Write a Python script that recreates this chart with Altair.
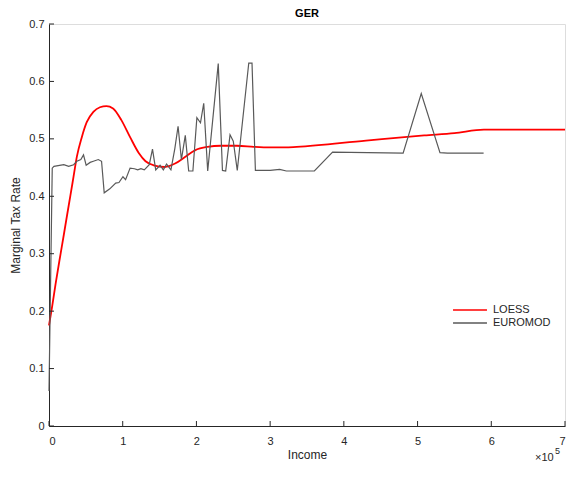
import altair as alt
import pandas as pd

# EUROMOD series (income, marginal tax rate)
euro_income = [0, 4400, 6700, 20100, 26700, 33400, 37800, 43200, 46800, 50400, 55800, 60200,
               66900, 71300, 74900, 82500, 90500, 94900, 100300, 103900, 110000, 115900, 120300,
               124700, 129300, 136000, 140400, 144800, 150700, 155100, 159500, 165400, 170700,
               175100, 179600, 184900, 189500, 195200, 200600, 205500, 209900, 215300, 229600,
               235300, 239700, 245600, 250000, 255400, 271000, 275400, 280000, 300000, 312900,
               322000, 360000, 384700, 480400, 505000, 530400, 540600, 589600]
euro_rate = [0.061, 0.449, 0.452, 0.455, 0.452, 0.455, 0.461, 0.464, 0.472, 0.454, 0.459, 0.461,
             0.464, 0.461, 0.406, 0.413, 0.423, 0.424, 0.434, 0.429, 0.449, 0.448, 0.446,
             0.448, 0.446, 0.455, 0.482, 0.446, 0.454, 0.446, 0.456, 0.446, 0.483,
             0.522, 0.464, 0.506, 0.444, 0.444, 0.537, 0.528, 0.562, 0.444, 0.631,
             0.445, 0.444, 0.507, 0.496, 0.445, 0.632, 0.632, 0.445, 0.445, 0.447,
             0.444, 0.444, 0.477, 0.475, 0.579, 0.476, 0.475, 0.475]

# LOESS series
loess_income = [0, 4400, 9000, 15600, 20100, 24500, 29000, 33400, 37800, 44500, 51200, 60200,
                69100, 77900, 86900, 98000, 110000, 122000, 131000, 142000, 157000, 171000,
                184000, 198000, 215000, 233000, 255000, 278000, 300000, 320000, 336000, 430000,
                509000, 550000, 590000, 700000]
loess_rate = [0.175, 0.209, 0.248, 0.299, 0.333, 0.367, 0.401, 0.435, 0.469, 0.503, 0.529, 0.547,
              0.555, 0.557, 0.553, 0.533, 0.503, 0.475, 0.461, 0.454, 0.451, 0.457,
              0.468, 0.480, 0.486, 0.488, 0.488, 0.486, 0.485, 0.485, 0.486, 0.497,
              0.506, 0.510, 0.516, 0.516]

x_ticks = [0, 100000, 200000, 300000, 400000, 500000, 600000, 700000]
y_ticks = [0, 0.1, 0.2, 0.3, 0.4, 0.5, 0.6, 0.7]
series_names = ["LOESS", "EUROMOD"]
series_colors = ["#ff0000", "#595959"]

W, H = 516, 402
AX = "#262626"
FONT = "Liberation Sans"

euro = pd.DataFrame({"income": euro_income, "rate": euro_rate, "series": "EUROMOD"})
loess = pd.DataFrame({"income": loess_income, "rate": loess_rate, "series": "LOESS"})

xs = alt.Scale(domain=[0, 700000], nice=False, zero=False)
ys = alt.Scale(domain=[0, 0.7], nice=False, zero=False)
cs = alt.Scale(domain=series_names, range=series_colors)

legend = alt.Legend(title=None, orient="none", legendX=413, legendY=278,
                    symbolType="M-2.4,0H2.4", symbolSize=200, symbolStrokeWidth=1.5,
                    labelFontSize=11, labelColor=AX, labelFont=FONT, rowPadding=0,
                    labelOffset=15)

xaxis = alt.Axis(values=x_ticks, labelExpr="datum.value/100000", grid=False, ticks=False,
                 domainColor=AX, labelColor=AX, labelFontSize=11, labelFont=FONT,
                 labelPadding=9, title="Income", titleFont=FONT, titleFontSize=12,
                 titleFontWeight="normal", titleColor=AX, titlePadding=3)
yaxis = alt.Axis(values=y_ticks, grid=False, ticks=False, domainColor=AX, labelColor=AX,
                 labelExpr="datum.value == 0 ? '0' : format(datum.value, '.1f')",
                 labelFontSize=11, labelFont=FONT, labelPadding=5,
                 title="Marginal Tax Rate", titleFont=FONT, titleFontSize=12,
                 titleFontWeight="normal", titleColor=AX, titlePadding=6)

euro_line = alt.Chart(euro).mark_line(strokeWidth=1.2).encode(
    x=alt.X("income:Q", scale=xs, axis=xaxis),
    y=alt.Y("rate:Q", scale=ys, axis=yaxis),
    color=alt.Color("series:N", scale=cs, legend=legend),
    order="income:Q",
)
loess_line = alt.Chart(loess).mark_line(strokeWidth=1.8, interpolate="monotone").encode(
    x=alt.X("income:Q", scale=xs),
    y=alt.Y("rate:Q", scale=ys),
    color=alt.Color("series:N", scale=cs, legend=legend),
    order="income:Q",
)

xt = alt.Chart(pd.DataFrame({"v": x_ticks})).mark_rule(color=AX, strokeWidth=1).encode(
    x=alt.X("v:Q", scale=xs), y=alt.value(H), y2=alt.value(H - 5))
yt = alt.Chart(pd.DataFrame({"v": y_ticks})).mark_rule(color=AX, strokeWidth=1).encode(
    y=alt.Y("v:Q", scale=ys), x=alt.value(0), x2=alt.value(5))

times = alt.Chart(pd.DataFrame({"t": ["\u00d710"]})).mark_text(
    align="left", baseline="middle", fontSize=11, font=FONT, color=AX).encode(
    text="t:N", x=alt.value(W - 30), y=alt.value(H + 32))
sup = alt.Chart(pd.DataFrame({"t": ["5"]})).mark_text(
    align="left", baseline="middle", fontSize=9, font=FONT, color=AX).encode(
    text="t:N", x=alt.value(W - 10), y=alt.value(H + 25))

chart = alt.layer(loess_line, euro_line, xt, yt, times, sup).properties(
    width=W, height=H,
    title=alt.TitleParams("GER", font=FONT, fontSize=11, fontWeight="bold", color="#000000",
                          anchor="middle", offset=4, dy=5),
    autosize=alt.AutoSizeParams(type="none"),
    padding={"left": 41, "top": 16, "right": 3, "bottom": 38},
).configure_view(stroke=None).configure(background="white")

chart.save("out.html", embed_options={"renderer": "svg", "actions": False})
